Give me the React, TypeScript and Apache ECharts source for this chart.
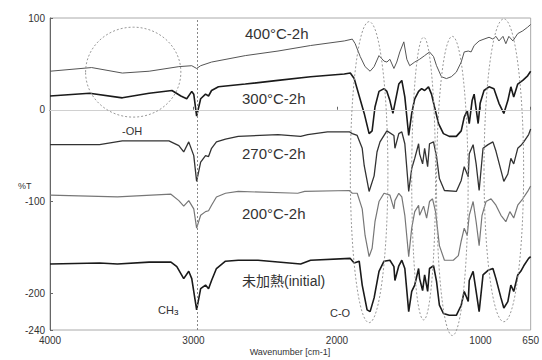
import { useEffect, useRef } from "react";
import * as echarts from "echarts";

// [wavenumber cm-1, %T (offset)]
const s400: number[][] = [[4000,42],[3710,46],[3496,40],[3309,42],[3102,47],[3012,48],[2978,45],[2950,48],[2874,52],[2639,59],[2411,64],[2184,70],[1949,75],[1893,77],[1873,72],[1838,58],[1804,47],[1769,42],[1741,47],[1707,59],[1672,53],[1652,52],[1631,55],[1603,45],[1583,52],[1562,63],[1534,74],[1513,55],[1493,48],[1458,52],[1424,55],[1389,59],[1355,63],[1327,58],[1306,48],[1272,36],[1237,34],[1203,36],[1168,41],[1134,52],[1113,63],[1085,64],[1065,63],[1044,70],[1009,75],[975,77],[940,79],[913,77],[892,80],[871,75],[843,80],[823,72],[802,80],[774,75],[740,83],[705,86],[671,90],[650,93]];

const s300: number[][] = [[4000,15],[3724,18],[3496,13],[3309,18],[3150,21],[3088,15],[3047,12],[3012,20],[2998,17],[2978,-7],[2950,12],[2916,17],[2895,15],[2874,21],[2826,25],[2639,28],[2411,32],[2184,36],[1949,39],[1907,40],[1880,34],[1845,15],[1810,-4],[1776,-26],[1755,-23],[1735,3],[1707,20],[1672,23],[1652,20],[1631,10],[1610,-4],[1596,7],[1569,28],[1548,32],[1527,14],[1500,-28],[1479,-4],[1458,12],[1431,20],[1410,23],[1389,21],[1362,25],[1341,17],[1320,3],[1292,-15],[1258,-26],[1217,-29],[1168,-29],[1134,-23],[1113,-8],[1092,-1],[1078,-15],[1058,10],[1044,17],[1016,-15],[1002,7],[975,21],[940,25],[906,23],[871,7],[837,-4],[809,10],[788,25],[768,14],[740,28],[705,32],[671,37],[650,42]];

const s270: number[][] = [[4000,-38],[3655,-38],[3496,-34],[3171,-34],[3102,-39],[3068,-46],[3033,-35],[2998,-50],[2978,-78],[2950,-57],[2916,-50],[2895,-51],[2874,-42],[2840,-35],[2777,-32],[2688,-29],[2411,-27],[2253,-29],[2204,-27],[2066,-24],[1914,-24],[1893,-26],[1859,-28],[1824,-42],[1810,-61],[1776,-89],[1741,-72],[1721,-46],[1700,-35],[1652,-23],[1603,-28],[1596,-42],[1569,-26],[1548,-24],[1527,-37],[1500,-89],[1479,-64],[1458,-53],[1431,-37],[1424,-48],[1403,-59],[1389,-42],[1368,-62],[1355,-37],[1327,-35],[1306,-51],[1286,-75],[1251,-88],[1168,-89],[1134,-77],[1113,-62],[1085,-73],[1078,-48],[1051,-38],[1030,-59],[1009,-88],[982,-42],[947,-38],[913,-35],[892,-45],[857,-66],[837,-78],[809,-70],[788,-53],[768,-59],[740,-42],[719,-39],[698,-35],[664,-27],[650,-21]];

const s200: number[][] = [[4000,-93],[3530,-95],[3157,-92],[3102,-99],[3068,-105],[3033,-99],[2998,-108],[2978,-129],[2950,-115],[2916,-111],[2895,-110],[2874,-104],[2840,-95],[2777,-91],[2688,-89],[2273,-91],[2225,-89],[1914,-88],[1893,-91],[1859,-91],[1824,-108],[1804,-137],[1776,-160],[1755,-151],[1735,-122],[1707,-100],[1672,-91],[1631,-93],[1603,-108],[1596,-99],[1569,-91],[1548,-95],[1527,-115],[1500,-160],[1479,-129],[1458,-111],[1431,-104],[1424,-115],[1396,-105],[1375,-118],[1355,-100],[1334,-97],[1313,-111],[1286,-148],[1251,-164],[1189,-164],[1154,-159],[1134,-143],[1113,-129],[1092,-137],[1078,-115],[1051,-100],[1030,-122],[1009,-148],[989,-115],[961,-100],[926,-97],[892,-104],[857,-115],[823,-122],[795,-111],[768,-118],[740,-104],[705,-97],[671,-89],[650,-83]];

const sInit: number[][] = [[4000,-168],[3655,-167],[3530,-168],[3309,-166],[3157,-166],[3116,-171],[3068,-184],[3033,-176],[3012,-184],[2978,-218],[2950,-195],[2916,-191],[2895,-195],[2874,-186],[2840,-173],[2777,-165],[2688,-164],[2550,-164],[2253,-168],[2184,-164],[1907,-162],[1880,-167],[1845,-165],[1824,-191],[1790,-218],[1769,-220],[1741,-205],[1707,-176],[1672,-165],[1631,-164],[1603,-171],[1596,-186],[1569,-170],[1548,-164],[1527,-173],[1500,-220],[1479,-198],[1458,-191],[1431,-173],[1424,-184],[1403,-197],[1389,-180],[1368,-198],[1355,-173],[1327,-170],[1306,-187],[1286,-213],[1258,-222],[1217,-224],[1168,-224],[1134,-213],[1113,-198],[1085,-209],[1078,-186],[1051,-176],[1030,-198],[1009,-220],[982,-180],[947,-175],[913,-173],[892,-184],[857,-205],[837,-216],[809,-209],[788,-191],[768,-198],[740,-180],[719,-176],[698,-170],[664,-162],[650,-160]];

const xTicks = [4000, 3000, 2000, 1000, 650];
const yTicks = [100, 0, -100, -200, -240];

// annotation ellipses: [center wn, center value, half-width wn, half-height value]
const ellipses: number[][] = [[3420,41,332,49],[1776,-68,131,164],[1396,-75,83,154],[1196,-83,110,163],[837,-66,138,165]];
const ch3Line = 2971;

const FONT = "'Liberation Sans', Arial, 'Noto Sans CJK JP', sans-serif";

export default function App() {
  const ref = useRef<HTMLDivElement>(null);
  useEffect(() => {
    if (!ref.current) return;
    const chart = echarts.init(ref.current, undefined, { renderer: "svg" });
    const mk = (data: number[][], color: string, width: number, extra: any = {}) => ({
      type: "line", data, showSymbol: false, symbol: "none", silent: true,
      lineStyle: { color, width }, ...extra,
    });
    chart.setOption({
      animation: false,
      textStyle: { fontFamily: FONT },
      grid: { left: 50, right: 7, top: 18, bottom: 30, show: true, borderColor: "#aaa", borderWidth: 1 },
      xAxis: {
        type: "value", inverse: true, min: 650, max: 4000,
        axisLine: { show: true, lineStyle: { color: "#666" } },
        axisTick: { show: true, inside: true, length: 3, customValues: xTicks, lineStyle: { color: "#666" } },
        axisLabel: { customValues: xTicks, fontSize: 10, color: "#333", margin: 5, formatter: (v: number) => String(v) },
        splitLine: { show: false },
      },
      yAxis: {
        type: "value", min: -240, max: 100,
        axisLine: { show: true, lineStyle: { color: "#666" } },
        axisTick: { show: true, inside: true, length: 3, customValues: yTicks, lineStyle: { color: "#666" } },
        axisLabel: { customValues: yTicks, fontSize: 10, color: "#333", margin: 5, formatter: (v: number) => String(v) },
        splitLine: { show: false },
      },
      series: [
        mk(s400, "#555", 1, {
          markLine: {
            silent: true, symbol: "none", label: { show: false },
            data: [
              { yAxis: 0, lineStyle: { color: "#d0d0d0", type: "solid", width: 1 } },
              { xAxis: ch3Line, lineStyle: { color: "#888", type: [2, 2], width: 1 } },
            ],
          },
        }),
        mk(s300, "#1a1a1a", 1.6),
        mk(s270, "#333", 1.3),
        mk(s200, "#777", 1.2),
        mk(sInit, "#1a1a1a", 1.6),
      ],
    });

    const el: any[] = ellipses.map(([wn, v, dw, dv]) => {
      const c = chart.convertToPixel({ gridIndex: 0 }, [wn, v]) as number[];
      const a = chart.convertToPixel({ gridIndex: 0 }, [wn - dw, v + dv]) as number[];
      return {
        type: "ellipse", silent: true, z: 10,
        shape: { cx: c[0], cy: c[1], rx: Math.abs(a[0] - c[0]), ry: Math.abs(a[1] - c[1]) },
        style: { fill: "none", stroke: "#999", lineWidth: 1, lineDash: [2, 2] },
      };
    });
    const txt = (text: string, x: number, y: number, size: number, extra: any = {}) => ({
      type: "text", silent: true, z: 20, x, y,
      style: { text, font: `${size}px ${FONT}`, fill: "#333", textVerticalAlign: "middle", ...extra },
    });
    el.push(
      txt("400°C-2h", 245, 33, 15),
      txt("300°C-2h", 242, 98, 15),
      txt("270°C-2h", 242, 153, 15),
      txt("200°C-2h", 242, 213, 15),
      txt("未加熱(initial)", 242, 281, 14),
      txt("-OH", 122, 131, 11),
      txt("C-O", 330, 313, 11),
      txt("%T", 18, 186, 9),
      txt("Wavenumber [cm-1]", 290, 352, 9, { textAlign: "center" }),
      {
        type: "text", silent: true, z: 20, x: 158, y: 310,
        style: {
          text: "{a|CH}{b|3}", textVerticalAlign: "middle",
          rich: {
            a: { fontSize: 11, fontFamily: FONT, fill: "#333", color: "#333" },
            b: { fontSize: 8, fontFamily: FONT, color: "#333", padding: [5, 0, 0, 0] },
          },
        },
      },
    );
    chart.setOption({ graphic: el });
    return () => chart.dispose();
  }, []);
  return <div ref={ref} style={{ width: 542, height: 360, position: "absolute", left: 0, top: 0, background: "#fff" }} />;
}
